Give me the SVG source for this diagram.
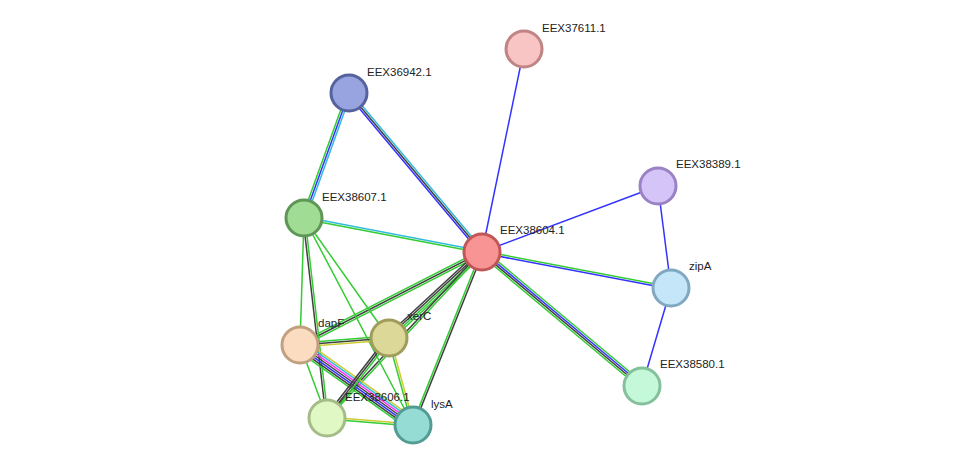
<svg xmlns="http://www.w3.org/2000/svg" width="975" height="471" viewBox="0 0 975 471">
<style>
line{stroke-width:1.5;fill:none}
.g{stroke:#33cc33}.b{stroke:#3333ff}.k{stroke:#404040}.c{stroke:#33bbdd}.m{stroke:#ff33ff}.y{stroke:#cccc33}
circle{stroke-width:3}
text{font-family:"Liberation Sans",Arial,sans-serif;font-size:11.5px;fill:#222}
</style>
<rect width="975" height="471" fill="#fff"/>
<g id="edges">
<line class="b" x1="524" y1="49" x2="482" y2="252"/>
<line class="b" x1="658" y1="186" x2="482" y2="252"/>
<line class="b" x1="658" y1="186" x2="671" y2="288"/>
<line class="b" x1="671" y1="288" x2="642" y2="386"/>
<g><line class="g" x1="349" y1="93" x2="304" y2="218" transform="translate(-1.9,-0.7)"/><line class="b" x1="349" y1="93" x2="304" y2="218"/><line class="c" x1="349" y1="93" x2="304" y2="218" transform="translate(1.9,0.7)"/></g>
<g><line class="b" x1="349" y1="93" x2="482" y2="252" transform="translate(-1.5,1.3)"/><line class="k" x1="349" y1="93" x2="482" y2="252"/><line class="c" x1="349" y1="93" x2="482" y2="252" transform="translate(1.5,-1.3)"/></g>
<g><line class="c" x1="304" y1="218" x2="482" y2="252" transform="translate(0.2,-1)"/><line class="g" x1="304" y1="218" x2="482" y2="252" transform="translate(-0.2,1)"/></g>
<g><line class="g" x1="482" y1="252" x2="671" y2="288" transform="translate(0.2,-1)"/><line class="b" x1="482" y1="252" x2="671" y2="288" transform="translate(-0.2,1)"/></g>
<g><line class="g" x1="482" y1="252" x2="642" y2="386" transform="translate(1.9,-2.3)"/><line class="b" x1="482" y1="252" x2="642" y2="386" transform="translate(0.6,-0.8)"/><line class="k" x1="482" y1="252" x2="642" y2="386" transform="translate(-0.6,0.8)"/><line class="g" x1="482" y1="252" x2="642" y2="386" transform="translate(-1.9,2.3)"/></g>
<g><line class="g" x1="482" y1="252" x2="300" y2="345" transform="translate(-0.9,-1.8)"/><line class="k" x1="482" y1="252" x2="300" y2="345"/><line class="g" x1="482" y1="252" x2="300" y2="345" transform="translate(0.9,1.8)"/></g>
<g><line class="k" x1="482" y1="252" x2="389" y2="338" transform="translate(-2,-2.2)"/><line class="k" x1="482" y1="252" x2="389" y2="338" transform="translate(-0.7,-0.7)"/><line class="g" x1="482" y1="252" x2="389" y2="338" transform="translate(0.7,0.7)"/><line class="g" x1="482" y1="252" x2="389" y2="338" transform="translate(2,2.2)"/></g>
<g><line class="k" x1="482" y1="252" x2="327" y2="418" transform="translate(-0.7,-0.7)"/><line class="g" x1="482" y1="252" x2="327" y2="418" transform="translate(0.7,0.7)"/></g>
<g><line class="g" x1="482" y1="252" x2="413" y2="425" transform="translate(-0.9,-0.4)"/><line class="k" x1="482" y1="252" x2="413" y2="425" transform="translate(0.9,0.4)"/></g>
<line class="g" x1="304" y1="218" x2="300" y2="345"/>
<g><line class="k" x1="304" y1="218" x2="327" y2="418" transform="translate(-1,0)"/><line class="g" x1="304" y1="218" x2="327" y2="418" transform="translate(1,0)"/></g>
<line class="g" x1="304" y1="218" x2="413" y2="425"/>
<line class="g" x1="304" y1="218" x2="389" y2="338"/>
<g><line class="g" x1="300" y1="345" x2="389" y2="338" transform="translate(0,-2)"/><line class="k" x1="300" y1="345" x2="389" y2="338"/><line class="y" x1="300" y1="345" x2="389" y2="338" transform="translate(0,2)"/></g>
<line class="g" x1="300" y1="345" x2="327" y2="418"/>
<g><line class="y" x1="300" y1="345" x2="413" y2="425" transform="translate(3.5,-4.9)"/><line class="c" x1="300" y1="345" x2="413" y2="425" transform="translate(2.3,-3.3)"/><line class="m" x1="300" y1="345" x2="413" y2="425" transform="translate(1.2,-1.6)"/><line class="k" x1="300" y1="345" x2="413" y2="425"/><line class="b" x1="300" y1="345" x2="413" y2="425" transform="translate(-1.2,1.6)"/><line class="k" x1="300" y1="345" x2="413" y2="425" transform="translate(-2.3,3.3)"/><line class="g" x1="300" y1="345" x2="413" y2="425" transform="translate(-3.5,4.9)"/></g>
<g><line class="k" x1="389" y1="338" x2="327" y2="418" transform="translate(-1.6,-1.2)"/><line class="k" x1="389" y1="338" x2="327" y2="418"/><line class="g" x1="389" y1="338" x2="327" y2="418" transform="translate(1.6,1.2)"/></g>
<g><line class="g" x1="389" y1="338" x2="413" y2="425" transform="translate(-1,0.3)"/><line class="y" x1="389" y1="338" x2="413" y2="425" transform="translate(1,-0.3)"/></g>
<g><line class="y" x1="327" y1="418" x2="413" y2="425" transform="translate(0,-1)"/><line class="g" x1="327" y1="418" x2="413" y2="425" transform="translate(0,1)"/></g>
</g>
<g id="EEX37611.1"><circle cx="524" cy="49" r="18" fill="#f8c4c4" stroke="#c08484"/><text x="542" y="32">EEX37611.1</text></g>
<g id="EEX36942.1"><circle cx="349" cy="93" r="18" fill="#98a4e0" stroke="#56629e"/><text x="367" y="76">EEX36942.1</text></g>
<g id="EEX38389.1"><circle cx="658" cy="186" r="18" fill="#d4c4f8" stroke="#9a82c4"/><text x="676" y="168">EEX38389.1</text></g>
<g id="EEX38607.1"><circle cx="304" cy="218" r="18" fill="#a0dc94" stroke="#5e9656"/><text x="322" y="201">EEX38607.1</text></g>
<g id="EEX38604.1"><circle cx="482" cy="252" r="18" fill="#f89494" stroke="#c05656"/><text x="500" y="234">EEX38604.1</text></g>
<g id="zipA"><circle cx="671" cy="288" r="18" fill="#c4e6f8" stroke="#80a8c0"/><text x="689" y="270">zipA</text></g>
<g id="dapF"><circle cx="300" cy="345" r="18" fill="#fcdcc0" stroke="#c0a080"/><text x="318" y="327">dapF</text></g>
<g id="xerC"><circle cx="389" cy="338" r="18" fill="#dcd898" stroke="#a09c5a"/><text x="407" y="320">xerC</text></g>
<g id="EEX38580.1"><circle cx="642" cy="386" r="18" fill="#c4f8d8" stroke="#84c09c"/><text x="660" y="368">EEX38580.1</text></g>
<g id="EEX38606.1"><circle cx="327" cy="418" r="18" fill="#e0f8c4" stroke="#a4bc88"/><text x="345" y="401">EEX38606.1</text></g>
<g id="lysA"><circle cx="413" cy="425" r="18" fill="#94dcd4" stroke="#529c94"/><text x="431" y="408">lysA</text></g>
</svg>
